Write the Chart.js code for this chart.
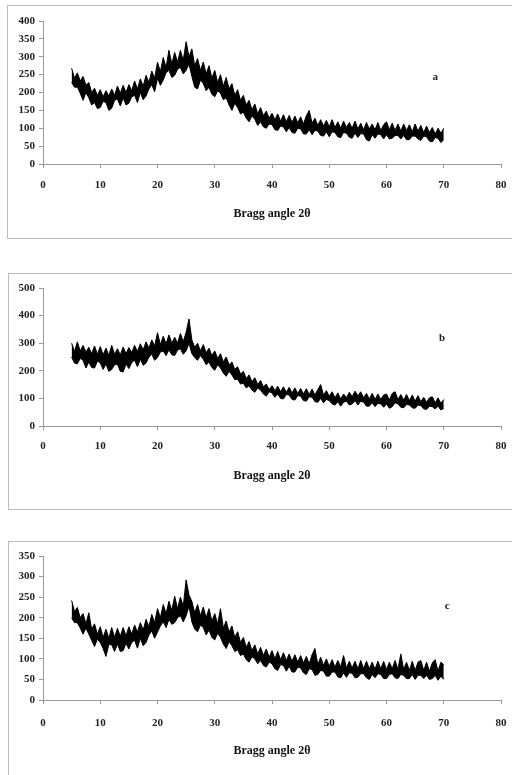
<!DOCTYPE html>
<html>
<head>
<meta charset="utf-8">
<script src="https://cdn.jsdelivr.net/npm/chart.js@4.4.1/dist/chart.umd.min.js"></script>
<style>
  html, body { margin: 0; padding: 0; background: #fff; }
  body { width: 512px; height: 775px; position: relative; overflow: hidden; }
  .box { position: absolute; border: 1px solid #bdbdbd; width: 540px; }
  canvas { position: absolute; left: 0; }
</style>
</head>
<body>
<div class="box" style="left:7px; top:5px; height:232px;"></div>
<div class="box" style="left:8px; top:273px; height:235px;"></div>
<div class="box" style="left:8px; top:541px; height:260px;"></div>
<canvas id="chartA" width="512" height="240" style="top:0px;"></canvas>
<canvas id="chartB" width="512" height="248" style="top:262px;"></canvas>
<canvas id="chartC" width="512" height="245" style="top:530px;"></canvas>
<script>
// diffraction angle (2 theta), one reading every half degree
const angle = [5, 5.5, 6, 6.5, 7, 7.5, 8, 8.5, 9, 9.5, 10, 10.5, 11, 11.5, 12, 12.5, 13, 13.5, 14, 14.5,
  15, 15.5, 16, 16.5, 17, 17.5, 18, 18.5, 19, 19.5, 20, 20.5, 21, 21.5, 22, 22.5, 23, 23.5, 24, 24.5,
  25, 25.5, 26, 26.5, 27, 27.5, 28, 28.5, 29, 29.5, 30, 30.5, 31, 31.5, 32, 32.5, 33, 33.5, 34, 34.5,
  35, 35.5, 36, 36.5, 37, 37.5, 38, 38.5, 39, 39.5, 40, 40.5, 41, 41.5, 42, 42.5, 43, 43.5, 44, 44.5,
  45, 45.5, 46, 46.5, 47, 47.5, 48, 48.5, 49, 49.5, 50, 50.5, 51, 51.5, 52, 52.5, 53, 53.5, 54, 54.5,
  55, 55.5, 56, 56.5, 57, 57.5, 58, 58.5, 59, 59.5, 60, 60.5, 61, 61.5, 62, 62.5, 63, 63.5, 64, 64.5,
  65, 65.5, 66, 66.5, 67, 67.5, 68, 68.5, 69, 69.5, 70];

// sample a : upper / lower edge of the noisy trace
const hiA = [268, 240, 255, 232, 245, 220, 228, 200, 212, 192, 208, 188, 205, 190, 210, 192, 218, 198, 220, 200,
  222, 205, 232, 210, 238, 218, 248, 228, 260, 240, 285, 258, 298, 270, 318, 280, 312, 285, 318, 290,
  342, 300, 322, 275, 295, 262, 285, 252, 275, 240, 262, 228, 250, 218, 242, 210, 225, 192, 208, 178,
  192, 165, 178, 152, 168, 140, 158, 135, 148, 128, 142, 124, 140, 120, 138, 118, 136, 116, 134, 115,
  132, 112, 135, 150, 114, 128, 108, 124, 106, 122, 104, 124, 102, 118, 100, 120, 102, 116, 100, 120,
  98, 114, 96, 116, 98, 112, 96, 116, 94, 110, 118, 96, 114, 94, 112, 92, 112, 94, 110, 90,
  112, 92, 108, 88, 106, 88, 102, 84, 100, 86, 100];
const loA = [228, 215, 215, 198, 178, 200, 185, 165, 172, 155, 158, 175, 172, 150, 156, 178, 182, 162, 185, 165,
  170, 188, 192, 172, 200, 180, 190, 210, 222, 202, 240, 220, 235, 255, 262, 242, 248, 265, 270, 252,
  262, 280, 245, 215, 210, 235, 225, 205, 215, 195, 188, 205, 198, 180, 185, 165, 150, 170, 158, 140,
  145, 128, 118, 135, 125, 108, 118, 104, 100, 112, 110, 96, 94, 106, 104, 90, 102, 88, 86, 100,
  98, 84, 84, 96, 82, 94, 92, 80, 78, 90, 76, 90, 88, 76, 74, 88, 86, 75, 72, 86,
  74, 85, 84, 68, 64, 82, 72, 84, 82, 70, 82, 70, 72, 80, 80, 70, 80, 68, 68, 78,
  78, 70, 66, 78, 76, 64, 62, 74, 72, 60, 68];

// sample b
const hiB = [300, 270, 305, 272, 292, 268, 285, 262, 290, 260, 288, 258, 282, 256, 292, 260, 280, 258, 286, 262,
  284, 266, 292, 270, 298, 276, 305, 282, 312, 290, 338, 295, 325, 298, 330, 300, 322, 300, 335, 305,
  340, 388, 312, 285, 300, 272, 295, 265, 282, 255, 272, 245, 262, 232, 250, 222, 232, 205, 215, 188,
  198, 172, 185, 160, 175, 150, 165, 142, 152, 132, 146, 128, 144, 124, 142, 122, 140, 120, 138, 118,
  136, 116, 135, 114, 134, 112, 132, 150, 112, 128, 108, 124, 102, 120, 98, 116, 102, 122, 106, 126,
  110, 124, 102, 118, 98, 118, 96, 116, 96, 112, 116, 94, 118, 124, 96, 114, 94, 114, 92, 112,
  90, 110, 88, 104, 86, 102, 106, 84, 102, 82, 96];
const loB = [250, 228, 225, 245, 238, 210, 232, 212, 210, 235, 228, 205, 225, 198, 205, 222, 224, 198, 196, 225,
  208, 230, 238, 215, 242, 220, 228, 250, 260, 238, 248, 268, 272, 255, 276, 258, 255, 275, 280, 260,
  272, 300, 262, 248, 238, 255, 242, 222, 232, 212, 202, 222, 210, 192, 180, 198, 185, 168, 170, 152,
  155, 138, 146, 130, 122, 138, 130, 116, 108, 124, 120, 104, 116, 100, 98, 114, 112, 96, 94, 110,
  108, 92, 90, 106, 104, 88, 86, 100, 84, 96, 92, 80, 76, 88, 72, 86, 90, 76, 80, 92,
  76, 90, 86, 72, 72, 84, 70, 82, 80, 68, 80, 64, 70, 84, 80, 68, 66, 78, 76, 66,
  64, 76, 74, 62, 60, 72, 70, 62, 72, 58, 64];

// sample c
const hiC = [242, 215, 225, 200, 210, 185, 212, 172, 185, 160, 178, 152, 172, 150, 176, 152, 174, 155, 176, 156,
  178, 160, 182, 165, 188, 170, 196, 178, 208, 188, 222, 200, 232, 210, 240, 218, 252, 222, 250, 228,
  292, 255, 240, 212, 232, 205, 226, 200, 222, 192, 210, 185, 222, 175, 192, 165, 180, 152, 166, 140,
  152, 128, 142, 120, 134, 112, 128, 108, 124, 104, 120, 100, 118, 98, 115, 96, 112, 94, 110, 92,
  108, 90, 106, 88, 110, 125, 86, 104, 84, 100, 82, 98, 80, 96, 80, 108, 78, 94, 78, 94,
  76, 96, 76, 94, 76, 92, 75, 94, 76, 94, 74, 92, 76, 96, 74, 112, 74, 92, 72, 94,
  72, 92, 96, 72, 92, 70, 90, 98, 70, 92, 86];
const loC = [200, 188, 188, 175, 160, 175, 160, 145, 130, 148, 140, 125, 106, 135, 134, 118, 136, 118, 120, 138,
  124, 140, 145, 126, 150, 132, 140, 158, 168, 150, 165, 180, 190, 176, 196, 184, 188, 200, 205, 190,
  205, 228, 190, 172, 166, 182, 176, 158, 170, 152, 146, 162, 152, 136, 125, 142, 132, 118, 122, 108,
  112, 98, 92, 105, 100, 88, 96, 84, 80, 92, 88, 76, 72, 86, 84, 70, 82, 68, 68, 80,
  78, 66, 62, 76, 74, 60, 62, 72, 70, 58, 58, 68, 68, 56, 54, 66, 55, 66, 65, 54,
  55, 64, 64, 54, 50, 62, 54, 64, 62, 52, 52, 62, 64, 54, 52, 62, 60, 52, 52, 62,
  50, 60, 60, 52, 60, 50, 52, 60, 48, 58, 50];

const xTicks = { min: 0, max: 80, step: 10 };

function toPoints(ys) {
  return angle.map((a, i) => ({ x: a, y: ys[i] }));
}

const serif = '"Liberation Serif", "DejaVu Serif", serif';

// small letter in the upper right corner of each panel
const cornerLetter = {
  id: 'cornerLetter',
  afterDraw(chart, args, opts) {
    const ctx = chart.ctx;
    ctx.save();
    ctx.font = 'bold 11px ' + serif;
    ctx.fillStyle = '#222';
    ctx.textAlign = 'center';
    ctx.textBaseline = 'middle';
    ctx.fillText(opts.text, chart.scales.x.getPixelForValue(opts.x), chart.scales.y.getPixelForValue(opts.y));
    ctx.restore();
  }
};

function makeChart(id, hi, lo, yMax, yStep, padTop, xHeight, padBottom, tickPad, letter) {
  const canvas = document.getElementById(id);
  return new Chart(canvas.getContext('2d'), {
    type: 'line',
    data: {
      datasets: [
        { data: toPoints(hi), borderColor: '#000', borderWidth: 1, pointRadius: 0, fill: false },
        { data: toPoints(lo), borderColor: '#000', borderWidth: 1, pointRadius: 0,
          fill: '-1', backgroundColor: '#000' }
      ]
    },
    options: {
      responsive: false,
      animation: false,
      devicePixelRatio: 1,
      layout: { padding: { top: padTop, left: 0, right: 11, bottom: padBottom } },
      plugins: {
        legend: { display: false },
        tooltip: { enabled: false },
        cornerLetter: letter
      },
      elements: { line: { tension: 0 } },
      scales: {
        x: {
          type: 'linear',
          min: xTicks.min, max: xTicks.max,
          ticks: { stepSize: xTicks.step, color: '#222', padding: tickPad, font: { family: serif, size: 11, weight: 'bold' } },
          grid: { drawOnChartArea: false, drawTicks: true, tickLength: 4, color: '#999' },
          border: { color: '#999' },
          title: { display: true, text: 'Bragg angle 2θ', color: '#111', padding: 0,
                   font: { family: serif, size: 12, weight: 'bold' } },
          afterFit(scale) {
            scale.height = xHeight;
            // tick padding would otherwise widen the right margin
            scale.paddingRight = 0;
            scale.paddingLeft = 0;
          }
        },
        y: {
          min: 0, max: yMax,
          ticks: { stepSize: yStep, color: '#222', padding: 4, font: { family: serif, size: 11, weight: 'bold' } },
          grid: { drawOnChartArea: false, drawTicks: true, tickLength: 4, color: '#999' },
          border: { color: '#999' },
          afterFit(scale) { scale.width = 43; }
        }
      }
    },
    plugins: [cornerLetter]
  });
}

makeChart('chartA', hiA, loA, 400, 50, 21, 57, 19, 11, { text: 'a', x: 68.5, y: 243 });
makeChart('chartB', hiB, loB, 500, 100, 26, 57, 27, 10, { text: 'b', x: 69.7, y: 319 });
makeChart('chartC', hiC, loC, 350, 50, 26, 58, 17, 13, { text: 'c', x: 70.6, y: 228 });
</script>
</body>
</html>
